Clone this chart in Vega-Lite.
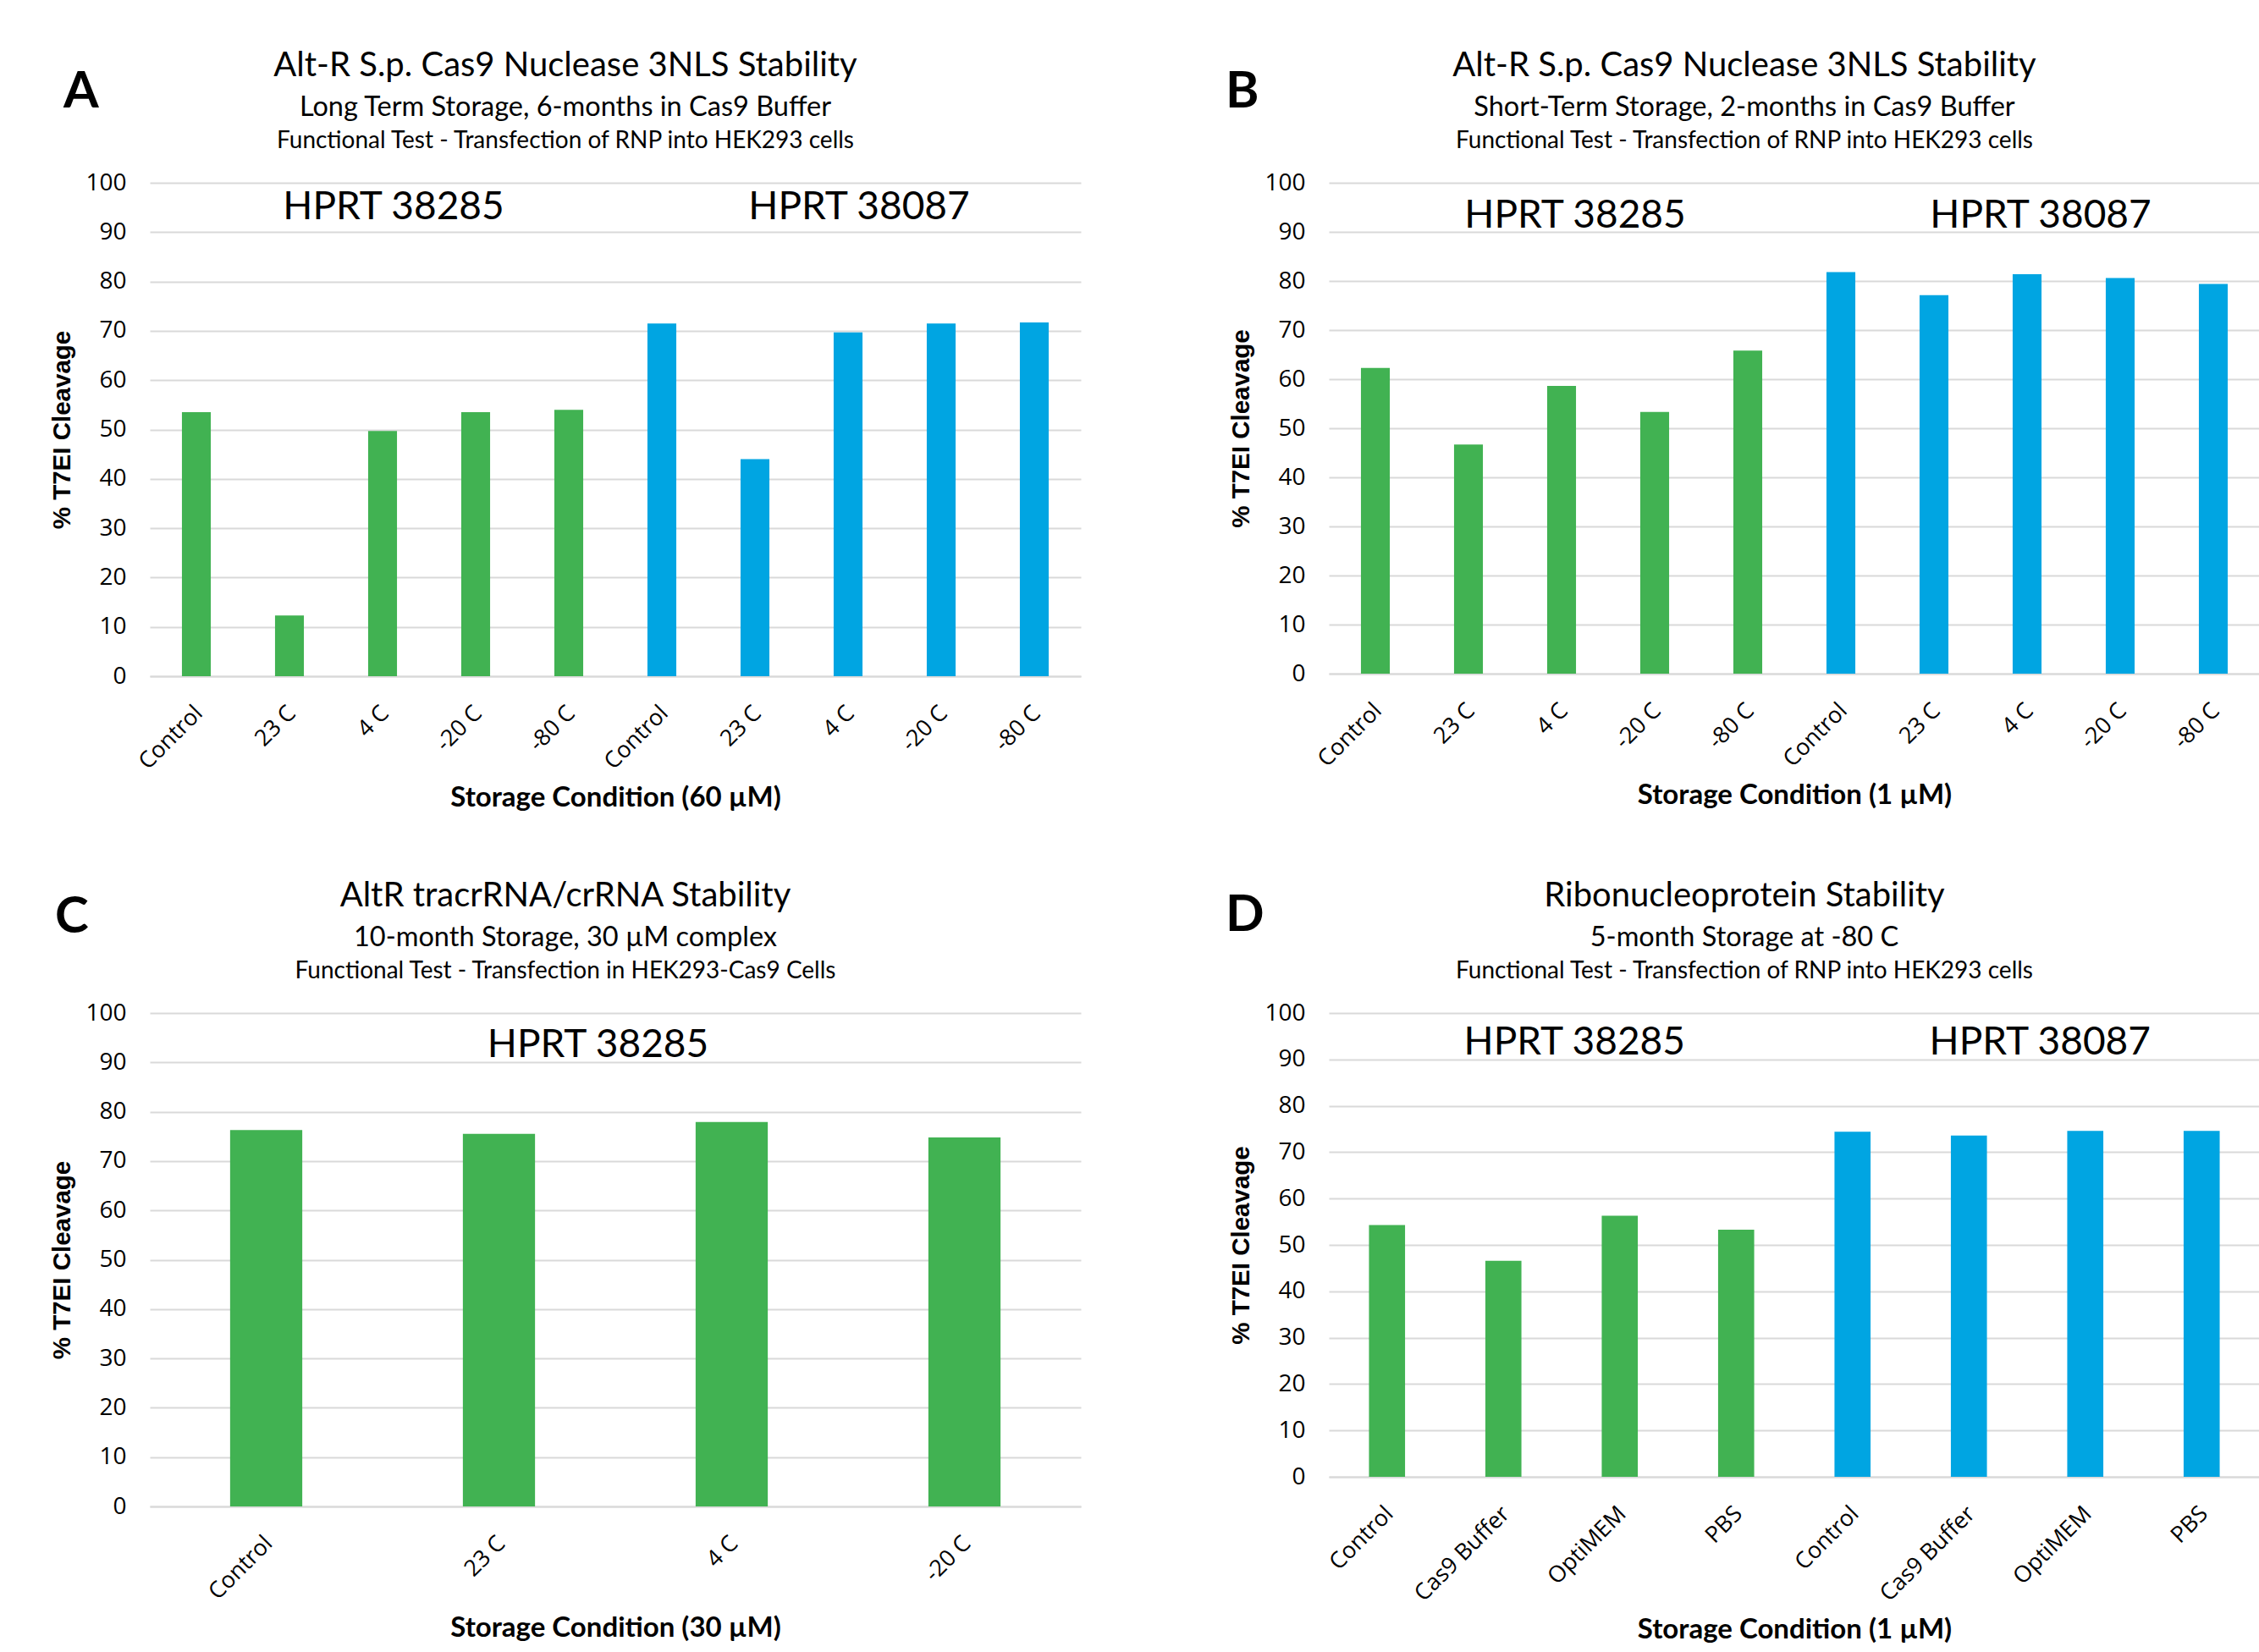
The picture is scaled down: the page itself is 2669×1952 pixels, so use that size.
{
  "$schema": "https://vega.github.io/schema/vega-lite/v6.json",
  "background": "white",
  "padding": {"left": 58, "top": 57, "right": 0, "bottom": 0},
  "datasets": {
    "a": [
      {"id": "1|Control", "target": "HPRT 38285", "value": 53.5},
      {"id": "1|23 C", "target": "HPRT 38285", "value": 12.3},
      {"id": "1|4 C", "target": "HPRT 38285", "value": 49.7},
      {"id": "1|-20 C", "target": "HPRT 38285", "value": 53.5},
      {"id": "1|-80 C", "target": "HPRT 38285", "value": 54.0},
      {"id": "2|Control", "target": "HPRT 38087", "value": 71.5},
      {"id": "2|23 C", "target": "HPRT 38087", "value": 44.0},
      {"id": "2|4 C", "target": "HPRT 38087", "value": 69.7},
      {"id": "2|-20 C", "target": "HPRT 38087", "value": 71.5},
      {"id": "2|-80 C", "target": "HPRT 38087", "value": 71.7}
    ],
    "a_labels": [
      {"id": "1|4 C", "label": "HPRT 38285"},
      {"id": "2|4 C", "label": "HPRT 38087"}
    ],
    "b": [
      {"id": "1|Control", "target": "HPRT 38285", "value": 62.3},
      {"id": "1|23 C", "target": "HPRT 38285", "value": 46.7},
      {"id": "1|4 C", "target": "HPRT 38285", "value": 58.6},
      {"id": "1|-20 C", "target": "HPRT 38285", "value": 53.3},
      {"id": "1|-80 C", "target": "HPRT 38285", "value": 65.8},
      {"id": "2|Control", "target": "HPRT 38087", "value": 81.8},
      {"id": "2|23 C", "target": "HPRT 38087", "value": 77.1},
      {"id": "2|4 C", "target": "HPRT 38087", "value": 81.4},
      {"id": "2|-20 C", "target": "HPRT 38087", "value": 80.6},
      {"id": "2|-80 C", "target": "HPRT 38087", "value": 79.4}
    ],
    "b_labels": [
      {"id": "1|4 C", "label": "HPRT 38285"},
      {"id": "2|4 C", "label": "HPRT 38087"}
    ],
    "c": [
      {"id": "1|Control", "target": "HPRT 38285", "value": 76.3},
      {"id": "1|23 C", "target": "HPRT 38285", "value": 75.5},
      {"id": "1|4 C", "target": "HPRT 38285", "value": 77.9},
      {"id": "1|-20 C", "target": "HPRT 38285", "value": 74.8}
    ],
    "c_labels": [
      {"id": "1|23 C", "label": "HPRT 38285"}
    ],
    "d": [
      {"id": "1|Control", "target": "HPRT 38285", "value": 54.3},
      {"id": "1|Cas9 Buffer", "target": "HPRT 38285", "value": 46.6},
      {"id": "1|OptiMEM", "target": "HPRT 38285", "value": 56.3},
      {"id": "1|PBS", "target": "HPRT 38285", "value": 53.3},
      {"id": "2|Control", "target": "HPRT 38087", "value": 74.4},
      {"id": "2|Cas9 Buffer", "target": "HPRT 38087", "value": 73.6},
      {"id": "2|OptiMEM", "target": "HPRT 38087", "value": 74.6},
      {"id": "2|PBS", "target": "HPRT 38087", "value": 74.6}
    ],
    "d_labels": [
      {"id": "1|Cas9 Buffer", "label": "HPRT 38285"},
      {"id": "2|Cas9 Buffer", "label": "HPRT 38087"}
    ]
  },
  "vconcat": [
    {
      "hconcat": [
        {
          "title": {"text": "A", "anchor": "start", "fontSize": 60, "fontWeight": "bold", "font": "Lato", "dy": 86, "dx": 16},
          "vconcat": [{
            "title": {"text": "Alt-R S.p. Cas9 Nuclease 3NLS Stability", "subtitle": "Long Term Storage, 6-months in Cas9 Buffer", "fontSize": 40, "subtitleFontSize": 32.5, "subtitlePadding": 13, "offset": 10, "frame": "bounds"},
            "vconcat": [{
              "title": {"text": "Functional Test - Transfection of RNP into HEK293 cells", "fontSize": 28, "offset": 21, "frame": "bounds"},
              "width": 1100, "height": 583,
              "layer": [
                {"data": {"name": "a"}, "mark": {"type": "bar"},
                 "encoding": {
                   "x": {"field": "id", "type": "nominal", "sort": null, "title": "Storage Condition (60 µM)",
                         "scale": {"domain": ["1|Control","1|23 C","1|4 C","1|-20 C","1|-80 C","2|Control","2|23 C","2|4 C","2|-20 C","2|-80 C"], "paddingInner": 0.69, "paddingOuter": 0.345},
                         "axis": {"labelExpr": "split(datum.value, '|')[1]"}},
                   "y": {"field": "value", "type": "quantitative", "title": "% T7EI Cleavage", "scale": {"domain": [0, 100], "nice": false}, "axis": {"values": [0,10,20,30,40,50,60,70,80,90,100]}},
                   "color": {"field": "target", "type": "nominal", "scale": {"domain": ["HPRT 38285", "HPRT 38087"], "range": ["#41B252", "#00A5E2"]}, "legend": null}
                 }},
                {"data": {"name": "a_labels"}, "mark": {"type": "text", "fontSize": 46, "font": "Lato", "dx": 13, "baseline": "middle", "color": "#000"},
                 "encoding": {"x": {"field": "id", "type": "nominal"}, "y": {"datum": 95}, "text": {"field": "label"}}}
              ]
            }]
          }]
        },
        {
          "title": {"text": "B", "anchor": "start", "fontSize": 60, "fontWeight": "bold", "font": "Lato", "dy": 86, "dx": -4},
          "vconcat": [{
            "title": {"text": "Alt-R S.p. Cas9 Nuclease 3NLS Stability", "subtitle": "Short-Term Storage, 2-months in Cas9 Buffer", "fontSize": 40, "subtitleFontSize": 32.5, "subtitlePadding": 13, "offset": 10, "frame": "bounds"},
            "vconcat": [{
              "title": {"text": "Functional Test - Transfection of RNP into HEK293 cells", "fontSize": 28, "offset": 21, "frame": "bounds"},
              "width": 1100, "height": 580,
              "layer": [
                {"data": {"name": "b"}, "mark": {"type": "bar"},
                 "encoding": {
                   "x": {"field": "id", "type": "nominal", "sort": null, "title": "Storage Condition (1 µM)",
                         "scale": {"domain": ["1|Control","1|23 C","1|4 C","1|-20 C","1|-80 C","2|Control","2|23 C","2|4 C","2|-20 C","2|-80 C"], "paddingInner": 0.69, "paddingOuter": 0.345},
                         "axis": {"labelExpr": "split(datum.value, '|')[1]"}},
                   "y": {"field": "value", "type": "quantitative", "title": "% T7EI Cleavage", "scale": {"domain": [0, 100], "nice": false}, "axis": {"values": [0,10,20,30,40,50,60,70,80,90,100]}},
                   "color": {"field": "target", "type": "nominal", "scale": {"domain": ["HPRT 38285", "HPRT 38087"], "range": ["#41B252", "#00A5E2"]}, "legend": null}
                 }},
                {"data": {"name": "b_labels"}, "mark": {"type": "text", "fontSize": 46, "font": "Lato", "dx": 16, "baseline": "middle", "color": "#000"},
                 "encoding": {"x": {"field": "id", "type": "nominal"}, "y": {"datum": 93.2}, "text": {"field": "label"}}}
              ]
            }]
          }]
        }
      ],
      "spacing": 170
    },
    {
      "hconcat": [
        {
          "title": {"text": "C", "anchor": "start", "fontSize": 60, "fontWeight": "bold", "font": "Lato", "dy": 80, "dx": 6},
          "vconcat": [{
            "title": {"text": "AltR tracrRNA/crRNA Stability", "subtitle": "10-month Storage, 30 µM complex", "fontSize": 40, "subtitleFontSize": 32.5, "subtitlePadding": 13, "offset": 10, "frame": "bounds"},
            "vconcat": [{
              "title": {"text": "Functional Test - Transfection in HEK293-Cas9 Cells", "fontSize": 28, "offset": 21, "frame": "bounds"},
              "width": 1100, "height": 583,
              "layer": [
                {"data": {"name": "c"}, "mark": {"type": "bar"},
                 "encoding": {
                   "x": {"field": "id", "type": "nominal", "sort": null, "title": "Storage Condition (30 µM)",
                         "scale": {"domain": ["1|Control","1|23 C","1|4 C","1|-20 C"], "paddingInner": 0.69, "paddingOuter": 0.345},
                         "axis": {"labelExpr": "split(datum.value, '|')[1]"}},
                   "y": {"field": "value", "type": "quantitative", "title": "% T7EI Cleavage", "scale": {"domain": [0, 100], "nice": false}, "axis": {"values": [0,10,20,30,40,50,60,70,80,90,100]}},
                   "color": {"field": "target", "type": "nominal", "scale": {"domain": ["HPRT 38285", "HPRT 38087"], "range": ["#41B252", "#00A5E2"]}, "legend": null}
                 }},
                {"data": {"name": "c_labels"}, "mark": {"type": "text", "fontSize": 46, "font": "Lato", "dx": 117, "baseline": "middle", "color": "#000"},
                 "encoding": {"x": {"field": "id", "type": "nominal"}, "y": {"datum": 93.4}, "text": {"field": "label"}}}
              ]
            }]
          }]
        },
        {
          "title": {"text": "D", "anchor": "start", "fontSize": 60, "fontWeight": "bold", "font": "Lato", "dy": 78, "dx": -4},
          "vconcat": [{
            "title": {"text": "Ribonucleoprotein Stability", "subtitle": "5-month Storage at -80 C", "fontSize": 40, "subtitleFontSize": 32.5, "subtitlePadding": 13, "offset": 10, "frame": "bounds"},
            "vconcat": [{
              "title": {"text": "Functional Test - Transfection of RNP into HEK293 cells", "fontSize": 28, "offset": 21, "frame": "bounds"},
              "width": 1100, "height": 548,
              "layer": [
                {"data": {"name": "d"}, "mark": {"type": "bar"},
                 "encoding": {
                   "x": {"field": "id", "type": "nominal", "sort": null, "title": "Storage Condition (1 µM)",
                         "scale": {"domain": ["1|Control","1|Cas9 Buffer","1|OptiMEM","1|PBS","2|Control","2|Cas9 Buffer","2|OptiMEM","2|PBS"], "paddingInner": 0.69, "paddingOuter": 0.345},
                         "axis": {"labelExpr": "split(datum.value, '|')[1]"}},
                   "y": {"field": "value", "type": "quantitative", "title": "% T7EI Cleavage", "scale": {"domain": [0, 100], "nice": false}, "axis": {"values": [0,10,20,30,40,50,60,70,80,90,100]}},
                   "color": {"field": "target", "type": "nominal", "scale": {"domain": ["HPRT 38285", "HPRT 38087"], "range": ["#41B252", "#00A5E2"]}, "legend": null}
                 }},
                {"data": {"name": "d_labels"}, "mark": {"type": "text", "fontSize": 46, "font": "Lato", "dx": 84, "baseline": "middle", "color": "#000"},
                 "encoding": {"x": {"field": "id", "type": "nominal"}, "y": {"datum": 93.6}, "text": {"field": "label"}}}
              ]
            }]
          }]
        }
      ],
      "spacing": 170
    }
  ],
  "spacing": 78,
  "config": {
    "view": {"stroke": null},
    "font": "Lato",
    "title": {"font": "Lato", "fontWeight": "normal", "color": "#000", "subtitleFont": "Lato", "subtitleColor": "#000", "anchor": "middle"},
    "axisX": {"labelAngle": -45, "labelFont": "Open Sans", "labelFontSize": 27, "labelColor": "#000", "ticks": false, "domainColor": "#d9d9d9", "domainWidth": 2, "grid": false, "labelPadding": 30, "labelOffset": -6, "titleFont": "Lato", "titleFontSize": 33, "titleFontWeight": "bold", "titleColor": "#000", "titlePadding": 13},
    "axisY": {"labelFont": "Open Sans", "labelFontSize": 28, "labelColor": "#000", "ticks": false, "domain": false, "grid": true, "gridColor": "#d9d9d9", "gridWidth": 2, "labelPadding": 28, "titleFont": "Liberation Sans", "titleFontSize": 29.5, "titleFontWeight": "bold", "titleColor": "#000", "titlePadding": 12}
  }
}
